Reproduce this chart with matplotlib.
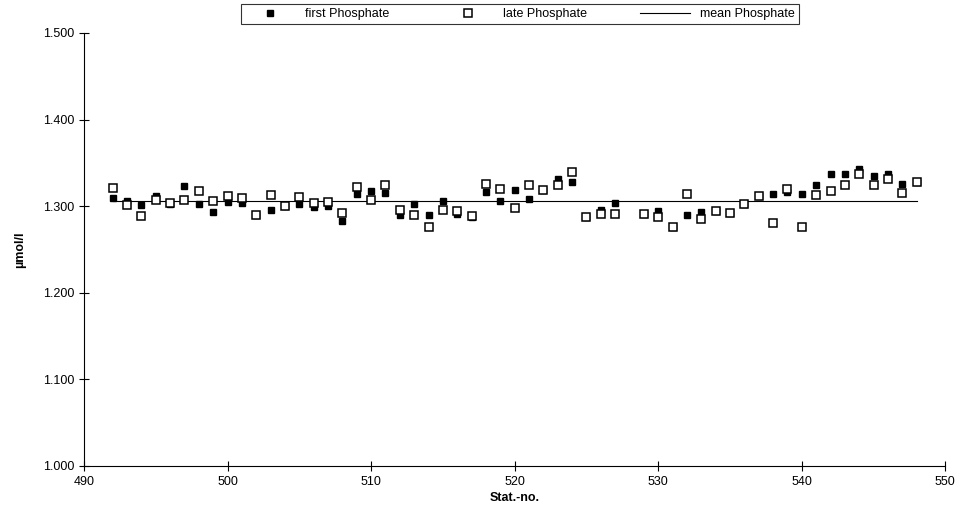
import matplotlib
matplotlib.use("Agg")
import matplotlib.pyplot as plt
import numpy as np

plt.rcParams['font.family'] = ['Liberation Sans', 'DejaVu Sans']

# station numbers (528 has no sample)
stations = [492, 493, 494, 495, 496, 497, 498, 499, 500, 501, 502, 503, 504, 505,
            506, 507, 508, 509, 510, 511, 512, 513, 514, 515, 516, 517, 518, 519,
            520, 521, 522, 523, 524, 525, 526, 527, 529, 530, 531, 532, 533, 534,
            535, 536, 537, 538, 539, 540, 541, 542, 543, 544, 545, 546, 547, 548]

first_po4 = [1.310, 1.306, 1.301, 1.312, 1.303, 1.323, 1.303, 1.293, 1.305, 1.304,
             1.290, 1.296, 1.300, 1.303, 1.299, 1.300, 1.283, 1.314, 1.317, 1.315,
             1.290, 1.303, 1.290, 1.306, 1.291, 1.287, 1.316, 1.306, 1.319, 1.308,
             1.319, 1.331, 1.328, 1.288, 1.296, 1.304, 1.291, 1.294, 1.276, 1.290,
             1.293, 1.294, 1.292, 1.302, 1.312, 1.314, 1.316, 1.314, 1.325, 1.337,
             1.337, 1.343, 1.335, 1.337, 1.326, 1.328]

late_po4 = [1.321, 1.301, 1.289, 1.307, 1.304, 1.307, 1.317, 1.306, 1.312, 1.309,
            1.290, 1.313, 1.300, 1.311, 1.304, 1.305, 1.292, 1.322, 1.307, 1.324,
            1.296, 1.290, 1.276, 1.296, 1.294, 1.289, 1.326, 1.320, 1.298, 1.324,
            1.319, 1.324, 1.340, 1.288, 1.291, 1.291, 1.291, 1.288, 1.276, 1.314,
            1.285, 1.294, 1.292, 1.302, 1.312, 1.281, 1.320, 1.276, 1.313, 1.317,
            1.324, 1.337, 1.325, 1.331, 1.315, 1.328]

mean_po4 = 1.306

fig = plt.figure(figsize=(9.7, 5.23), dpi=100)
ax = fig.add_axes([0.0866, 0.109, 0.888, 0.828])

ax.plot(stations, first_po4, linestyle='none', marker='s', markersize=4.3,
        color='black', label='first Phosphate', zorder=3)
ax.plot(stations, late_po4, linestyle='none', marker='s', markersize=5.6,
        markerfacecolor='white', markeredgecolor='black', markeredgewidth=1.1,
        label='late Phosphate', zorder=4)
ax.plot([stations[0], stations[-1]], [mean_po4, mean_po4], color='black',
        linewidth=0.8, label='mean Phosphate', zorder=2)

ax.set_xlim(490, 550)
ax.set_ylim(1.0, 1.5)
ax.set_xticks(np.arange(490, 551, 10))
ax.set_yticks(np.arange(1.0, 1.51, 0.1))
ax.set_yticklabels(['%.3f' % v for v in np.arange(1.0, 1.51, 0.1)])
ax.tick_params(direction='inout', length=7, width=0.8, labelsize=9)

ax.spines['top'].set_visible(False)
ax.spines['right'].set_visible(False)

ax.set_xlabel('Stat.-no.', fontsize=9, fontweight='bold', labelpad=3)
ax.set_ylabel('µmol/l', fontsize=9, fontweight='bold', labelpad=12)

leg = fig.legend(loc='upper center', bbox_to_anchor=(0.536, 1.004), ncol=3,
                 fontsize=9, frameon=True, fancybox=False, edgecolor='black',
                 handlelength=4, columnspacing=4.3, borderpad=0.3)
leg.get_frame().set_linewidth(0.8)

fig.savefig('out.png', dpi=100)
